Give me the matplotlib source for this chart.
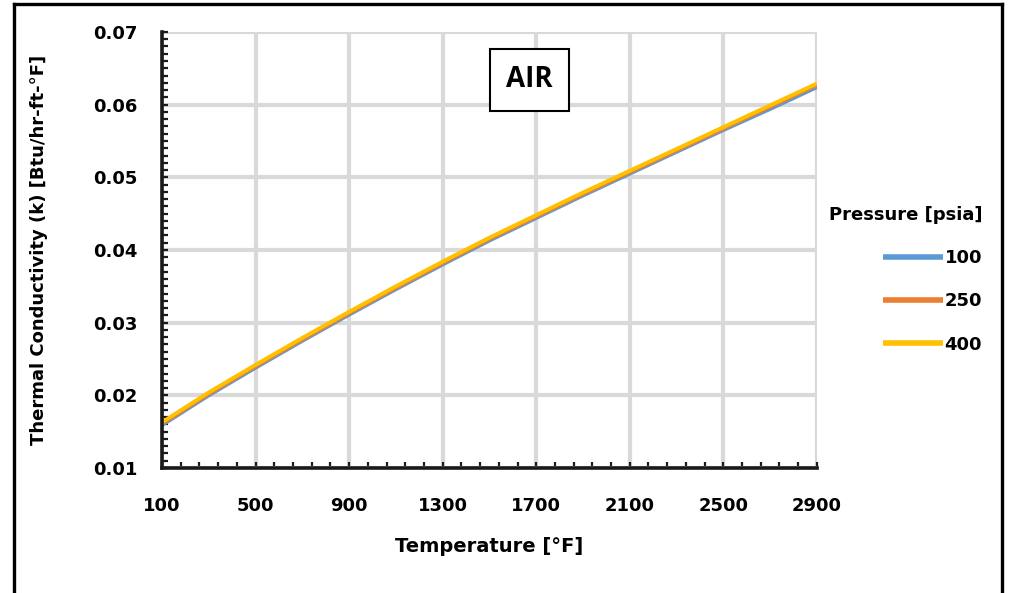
import matplotlib
matplotlib.use("Agg")
import matplotlib.pyplot as plt
from matplotlib.lines import Line2D
from matplotlib.ticker import MultipleLocator, FixedLocator

plt.rcParams['font.family'] = ['DejaVu Sans']

# Air thermal conductivity vs temperature, three pressures
temps = [100, 300, 500, 700, 900, 1100, 1300, 1500, 1700, 1900, 2100, 2300, 2500, 2700, 2900]
k_100 = [0.0159, 0.0200, 0.0238, 0.0275, 0.0311, 0.0346, 0.0380, 0.0413, 0.0444, 0.0475, 0.0505, 0.0535, 0.0565, 0.0594, 0.0624]
k_250 = [0.0161, 0.0202, 0.0240, 0.0277, 0.0313, 0.0348, 0.0382, 0.0415, 0.0446, 0.0477, 0.0507, 0.0537, 0.0567, 0.0597, 0.0627]
k_400 = [0.0163, 0.0204, 0.0242, 0.0279, 0.0315, 0.0350, 0.0384, 0.0417, 0.0448, 0.0479, 0.0509, 0.0539, 0.0569, 0.0599, 0.0629]
pressures = ['100', '250', '400']
colors = ['#5B9BD5', '#ED7D31', '#FFC000']
x_ticks = [100, 500, 900, 1300, 1700, 2100, 2500, 2900]

fig = plt.figure(figsize=(10.09, 5.93), dpi=100)
ax = fig.add_axes([0.1606, 0.2108, 0.649, 0.7353])

for k, p, c in zip([k_100, k_250, k_400], pressures, colors):
    ax.plot(temps, k, color=c, lw=2.8, label=p, solid_capstyle='butt')

ax.set_xlim(100, 2900)
ax.set_ylim(0.01, 0.07)
ax.xaxis.set_major_locator(FixedLocator(x_ticks))
ax.xaxis.set_minor_locator(FixedLocator(list(range(100, 2901, 80))))
ax.yaxis.set_major_locator(MultipleLocator(0.01))
ax.yaxis.set_minor_locator(MultipleLocator(0.001))
ax.yaxis.set_major_formatter(plt.FuncFormatter(lambda v, _: '%.2f' % v))

ax.grid(True, which='major', color='#D9D9D9', lw=3)
ax.set_axisbelow(True)
for s in ['top', 'right']:
    ax.spines[s].set_visible(False)
for s in ['left', 'bottom']:
    ax.spines[s].set_linewidth(2.6)
    ax.spines[s].set_color('#1a1a1a')
ax.tick_params(which='both', direction='in', length=4, width=1.6, color='#1a1a1a')
ax.tick_params(axis='y', labelsize=13, pad=18)
ax.tick_params(axis='x', labelsize=13, pad=21)
for lab in ax.get_xticklabels() + ax.get_yticklabels():
    lab.set_fontweight('bold')

ax.set_xlabel('Temperature [°F]', fontsize=14, fontweight='bold', labelpad=16)
ax.set_ylabel('Thermal Conductivity (k) [Btu/hr-ft-°F]', fontsize=13, fontweight='bold', labelpad=32)

ax.text(0.561, 0.89, 'AIR', transform=ax.transAxes, ha='center', va='center',
        fontsize=20, fontweight='bold', family=['Open Sans', 'DejaVu Sans'],
        bbox=dict(boxstyle='square,pad=0.58', fc='white', ec='black', lw=1.5))

leg = fig.legend(loc='upper left', bbox_to_anchor=(0.814, 0.665), frameon=False,
                 title='Pressure [psia]', fontsize=13, handlelength=3.3,
                 handletextpad=0.1, labelspacing=1.4, alignment='right',
                 borderaxespad=0.0)
leg.get_title().set_fontweight('bold')
leg.get_title().set_fontsize(13)
for t in leg.get_texts():
    t.set_fontweight('bold')
for h in leg.get_lines():
    h.set_linewidth(4)

# outer panel border
fig.add_artist(Line2D([14 / 1009, 1002 / 1009], [1 - 4 / 593, 1 - 4 / 593], color='black', lw=2.4))
fig.add_artist(Line2D([14 / 1009, 14 / 1009], [0, 1 - 4 / 593], color='black', lw=2.4))
fig.add_artist(Line2D([1002 / 1009, 1002 / 1009], [0, 1 - 4 / 593], color='black', lw=2.4))

fig.savefig('out.png', dpi=100)
